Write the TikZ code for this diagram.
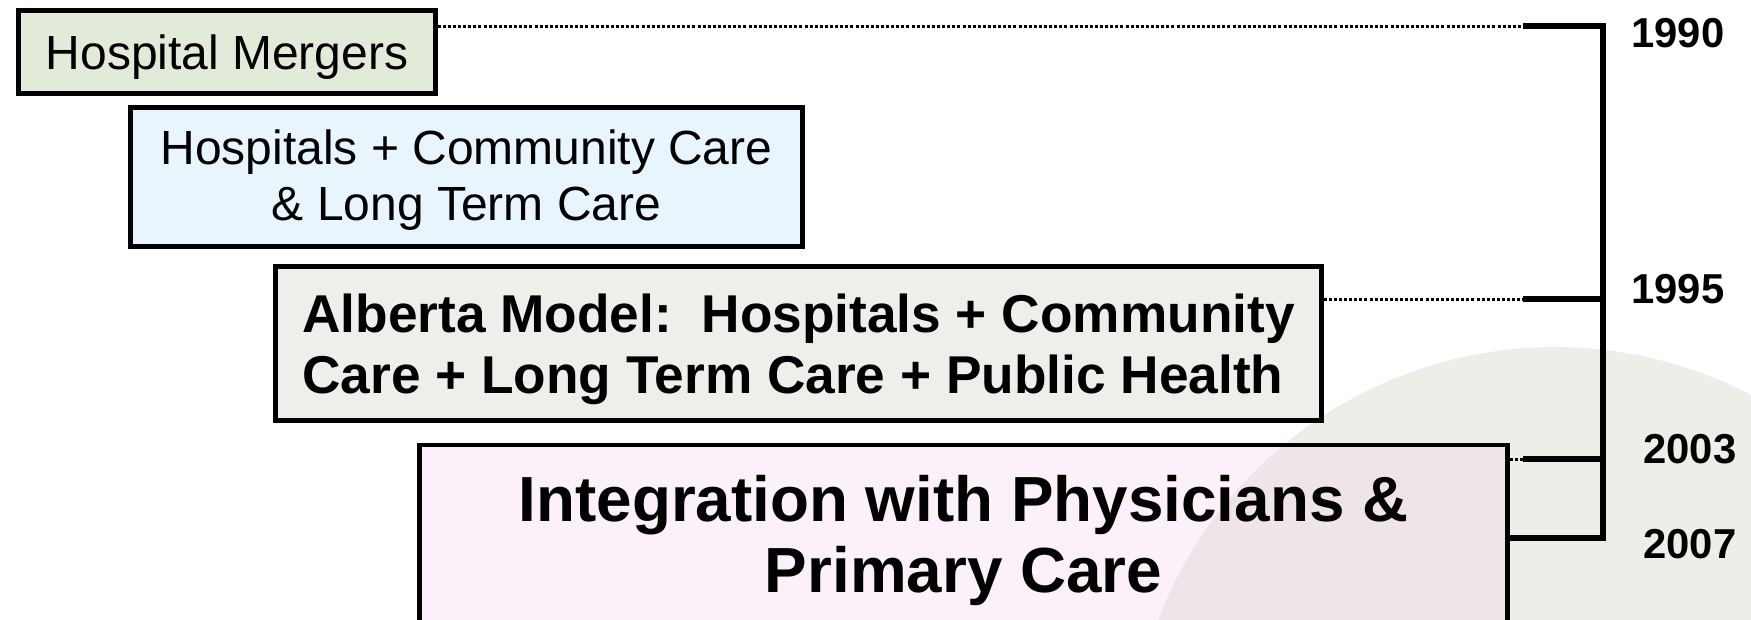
\documentclass[tikz,border=0pt]{standalone}
\usepackage{fontspec}
\setmainfont{Liberation Sans}
\frenchspacing

\definecolor{mergegreen}{RGB}{226,235,217}
\definecolor{careblue}{RGB}{233,245,252}
\definecolor{albgray}{RGB}{239,238,234}
\definecolor{intpink}{RGB}{252,240,251}
\definecolor{overlap}{RGB}{239,228,234}
\definecolor{discgray}{RGB}{238,237,232}

\begin{document}
\begin{tikzpicture}[x=0.02cm, y=-0.02cm]
	\tikzset{stage/.style={draw, line width=0.09cm, inner sep=0pt}, tick/.style={line width=0.11cm}, lead/.style={line width=0.06cm, dash pattern=on 1.7pt off 1.2pt}, year/.style={anchor=base west, inner sep=0pt, font=\fontsize{23.8}{28}\selectfont\bfseries}}

	\path[use as bounding box] (0,0) rectangle (1751,619);
	\clip (0,0) rectangle (1751,619);

	% backdrop disc
	\coordinate (disc) at (1555,772);
	\fill[discgray] (disc) circle[radius=8.5cm];

	% stages
	\node[stage, fill=mergegreen, minimum width=8.34cm, minimum height=1.66cm, text depth=0pt, font=\fontsize{27.3}{32}\selectfont] (hm) at (227,52) {Hospital Mergers};
	\node[stage, fill=careblue, minimum width=13.44cm, minimum height=2.78cm, text height=55pt, align=center, font=\fontsize{27.3}{31.9}\selectfont] (hc) at (466.5,177) {Hospitals + Community Care\\ \& Long Term Care};
	\node[stage, fill=albgray, minimum width=20.92cm, minimum height=3.08cm, text height=63.3pt, align=left, font=\fontsize{30.3}{34.7}\selectfont\bfseries] (am) at (798.5,343.5) {Alberta Model:~ Hospitals + Community\\ Care + Long Term Care + Public Health};
	\node[stage, fill=intpink, anchor=north, minimum width=21.76cm, inner ysep=0.62cm, align=center, font=\fontsize{36.3}{40.4}\selectfont\bfseries, path picture={\fill[overlap] (disc) circle[radius=8.5cm];}] (ip) at (963.5,442.5) {Integration with Physicians \&\\ Primary Care};

	% time line
	\coordinate (k1) at (1523,26); \coordinate (s1) at (1603,26);
	\coordinate (k2) at (1523,299); \coordinate (s2) at (1603,299);
	\coordinate (k3) at (1523,459); \coordinate (s3) at (1603,459);
	\coordinate (s4) at (1603,538);

	\draw[lead] (hm.east |- k1) -- (k1);
	\draw[lead] (am.east |- k2) -- (k2);
	\draw[lead] (ip.east |- k3) -- (k3);
	\draw[tick] (k1) -- (s1) -- (s4) -- (ip.east |- s4);
	\draw[tick] (k2) -- (s2);
	\draw[tick] (k3) -- (s3);

	\node[year] (y1) at (1631,47) {1990};
	\node[year] (y2) at (1631,303) {1995};
	\node[year] (y3) at (1643,463) {2003};
	\node[year] (y4) at (1643,558) {2007};
\end{tikzpicture}
\end{document}
